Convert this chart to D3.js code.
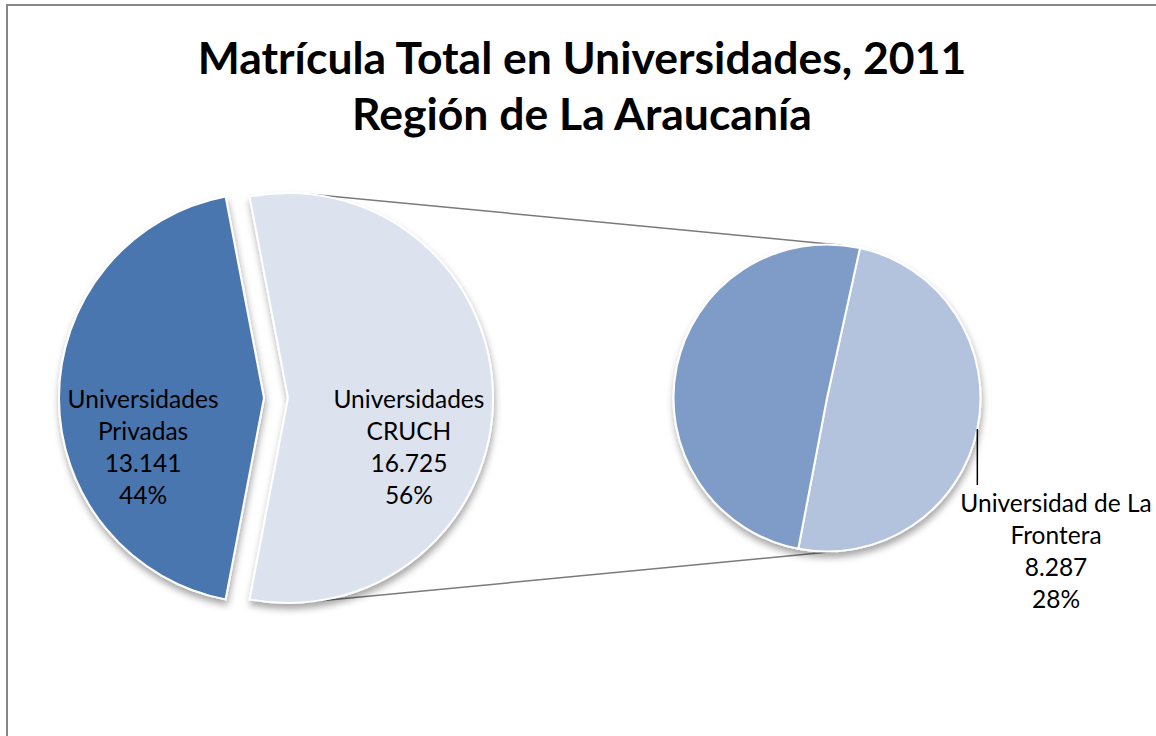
<!DOCTYPE html>
<html><head><meta charset="utf-8">
<script src="https://cdn.jsdelivr.net/npm/d3@7"></script>
<style>html,body{margin:0;padding:0;background:#fff;}svg{display:block;}</style>
</head><body>
<svg id="chart" width="1156" height="736"></svg>
<script>
// ---- data ----
const titleLines = ["Matrícula Total en Universidades, 2011", "Región de La Araucanía"];
const primaryNames = ["Universidades CRUCH", "Universidades Privadas"];
const primaryLabelLines = [["Universidades", "CRUCH"], ["Universidades", "Privadas"]];
const primaryValues = [16725, 13141];
const secondaryNames = ["Universidad de La Frontera", "Otra universidad CRUCH"];
const secondaryLabelLines = [["Universidad de La", "Frontera"], null];
const secondaryValues = [8287, 8438];

const fmtNum = v => d3.format(",")(v).replace(/,/g, ".");
const totalPrimary = d3.sum(primaryValues);
const fmtPct = v => Math.round(v / totalPrimary * 100) + "%";

const svg = d3.select("#chart");
const font = "Lato, 'Open Sans', sans-serif";

// frame
svg.append("rect").attr("x", 7).attr("y", 5).attr("width", 1170).attr("height", 760)
  .attr("fill", "none").attr("stroke", "#878787").attr("stroke-width", 2);

// shadow filter
const defs = svg.append("defs");
const f = defs.append("filter").attr("id", "sh").attr("x", "-20%").attr("y", "-20%").attr("width", "140%").attr("height", "140%");
f.append("feDropShadow").attr("dx", 1).attr("dy", 5).attr("stdDeviation", 3.5)
  .attr("flood-color", "#000").attr("flood-opacity", 0.35);

// title
const title = svg.append("text").attr("text-anchor", "middle").attr("font-family", font)
  .attr("font-weight", "bold").attr("font-size", 44.5).attr("fill", "#000");
titleLines.forEach((t, i) => title.append("tspan").attr("x", 582).attr("y", 74 + i * 56).text(t));

// geometry
const cy = 398, cx1 = 276, r1 = 205, explode = 12;
const cx2 = 827, r2 = 153.5;
const deg = Math.PI / 180;
const labelSize = 24.5;

const crFrac = primaryValues[0] / totalPrimary;
const pie1 = d3.pie().sort(null)
  .startAngle(Math.PI / 2 - crFrac * Math.PI)
  .endAngle(Math.PI / 2 - crFrac * Math.PI + 2 * Math.PI);
const arcs1 = pie1(primaryValues);
const arc1 = d3.arc().innerRadius(0).outerRadius(r1);
const colors1 = ["#DCE3EF", "#4A76AE"];

// connector lines (external tangents of both circles)
const ax = cx1 + explode;
const phi = Math.asin((r1 - r2) / (cx2 - ax));
[-1, 1].forEach(s => {
  const a = s < 0 ? phi : Math.PI - phi;
  svg.append("line")
    .attr("x1", ax + r1 * Math.sin(a)).attr("y1", cy - r1 * Math.cos(a))
    .attr("x2", cx2 + r2 * Math.sin(a)).attr("y2", cy - r2 * Math.cos(a))
    .attr("stroke", "#7a7a7a").attr("stroke-width", 1.5);
});

const g1 = svg.append("g").attr("filter", "url(#sh)");
arcs1.forEach((d, i) => {
  const mid = (d.startAngle + d.endAngle) / 2;
  const ox = explode * Math.sin(mid), oy = -explode * Math.cos(mid);
  g1.append("path").attr("d", arc1(d))
    .attr("transform", `translate(${cx1 + ox},${cy + oy})`)
    .attr("fill", colors1[i]).attr("stroke", "#fff").attr("stroke-width", 2);
});

// primary labels
arcs1.forEach((d, i) => {
  const mid = (d.startAngle + d.endAngle) / 2;
  const ox = explode * Math.sin(mid);
  const lx = cx1 + ox + 0.59 * r1 * Math.sin(mid);
  const lines = primaryLabelLines[i].concat([fmtNum(primaryValues[i]), fmtPct(primaryValues[i])]);
  const t = svg.append("text").attr("text-anchor", "middle").attr("font-family", font)
    .attr("font-size", labelSize).attr("fill", "#000");
  lines.forEach((s, k) => t.append("tspan").attr("x", lx).attr("y", cy + 10 + k * 32).text(s));
});

// secondary pie
const start2 = 12.4 * deg;
const pie2 = d3.pie().sort(null).startAngle(start2).endAngle(start2 + 2 * Math.PI);
const arcs2 = pie2(secondaryValues);
const arc2 = d3.arc().innerRadius(0).outerRadius(r2);
const colors2 = ["#B4C3DD", "#7F9BC7"];
const g2 = svg.append("g").attr("filter", "url(#sh)").attr("transform", `translate(${cx2},${cy})`);
arcs2.forEach((d, i) => {
  g2.append("path").attr("d", arc2(d)).attr("fill", colors2[i])
    .attr("stroke", "#fff").attr("stroke-width", 2);
});

// secondary label with leader line
{
  const ly = 31;
  const px = cx2 + Math.sqrt(r2 * r2 - ly * ly);
  svg.append("line").attr("x1", px).attr("y1", cy + ly).attr("x2", px).attr("y2", cy + ly + 56)
    .attr("stroke", "#000").attr("stroke-width", 1.5);
  const lines = secondaryLabelLines[0].concat([fmtNum(secondaryValues[0]), fmtPct(secondaryValues[0])]);
  const t = svg.append("text").attr("text-anchor", "middle").attr("font-family", font)
    .attr("font-size", labelSize).attr("fill", "#000");
  lines.forEach((s, k) => t.append("tspan").attr("x", 1056).attr("y", 512 + k * 32).text(s));
}
</script>
</body></html>
